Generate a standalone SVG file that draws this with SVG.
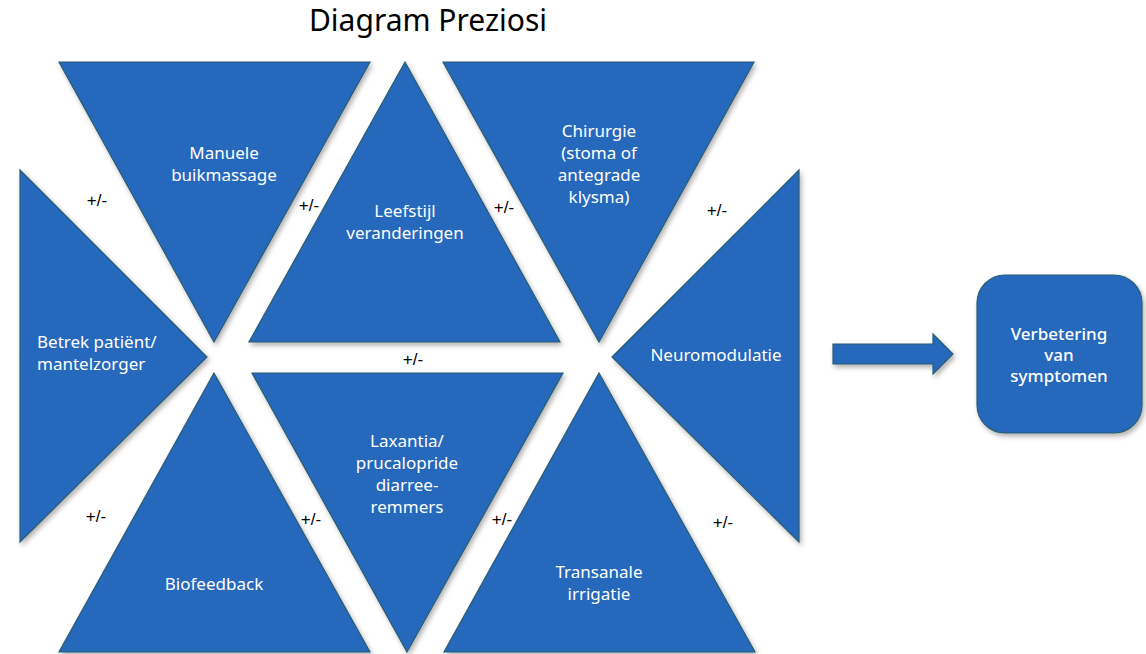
<svg xmlns="http://www.w3.org/2000/svg" width="1146" height="654" viewBox="0 0 1146 654">
<defs>
<filter id="sh" x="-10%" y="-10%" width="130%" height="130%">
<feDropShadow dx="2" dy="3" stdDeviation="2.5" flood-color="#000" flood-opacity="0.3"/>
</filter>
<style>
.s{fill:#2767BC;stroke:#2B5D72;stroke-width:1.2;filter:url(#sh)}
.t{font-family:"Noto Sans","Open Sans",sans-serif;font-size:17px;fill:#fff;text-anchor:middle}
.l{text-anchor:start}
.p{font-family:"Liberation Sans",Arial,sans-serif;font-size:17px;fill:#000;text-anchor:middle}
.ttl{font-family:"Noto Sans","Open Sans",sans-serif;font-size:30px;fill:#000;text-anchor:middle}
</style>
</defs>
<rect width="1146" height="654" fill="#fff"/>
<text class="ttl" x="428" y="31">Diagram Preziosi</text>

<g id="manuele"><polygon class="s" points="59,62 370,62 214,342"/>
<text class="t" x="224" y="159">Manuele</text><text class="t" x="224" y="181">buikmassage</text></g>

<g id="leefstijl"><polygon class="s" points="405,62 560,342 249,342"/>
<text class="t" x="405" y="217">Leefstijl</text><text class="t" x="405" y="239">veranderingen</text></g>

<g id="chirurgie"><polygon class="s" points="443,62 754,62 599,342"/>
<text class="t" x="599" y="137">Chirurgie</text><text class="t" x="599" y="159">(stoma of</text><text class="t" x="599" y="181">antegrade</text><text class="t" x="599" y="203">klysma)</text></g>

<g id="betrek"><polygon class="s" points="20,170 207,357 20,542"/>
<text class="t l" x="37" y="348">Betrek patiënt/</text><text class="t l" x="37" y="370">mantelzorger</text></g>

<g id="neuromodulatie"><polygon class="s" points="799,170 799,542 612,357"/>
<text class="t" x="716" y="361">Neuromodulatie</text></g>

<g id="biofeedback"><polygon class="s" points="214,373 370,652 59,652"/>
<text class="t" x="214" y="590">Biofeedback</text></g>

<g id="laxantia"><polygon class="s" points="252,373 563,373 407,652"/>
<text class="t" x="407" y="447">Laxantia/</text><text class="t" x="407" y="469">prucalopride</text><text class="t" x="407" y="491">diarree-</text><text class="t" x="407" y="513">remmers</text></g>

<g id="transanale"><polygon class="s" points="599,373 755,652 444,652"/>
<text class="t" x="599" y="578">Transanale</text><text class="t" x="599" y="600">irrigatie</text></g>

<g id="connectors">
<polygon class="s" points="833,344 933,344 933,334 953,354 933,374 933,364 833,364"/>
</g>

<g id="verbetering"><rect class="s" x="977" y="275" width="165" height="158" rx="28" ry="28"/>
<text class="t" x="1059" y="340" font-weight="500">Verbetering</text><text class="t" x="1059" y="361" font-weight="500">van</text><text class="t" x="1059" y="382" font-weight="500">symptomen</text></g>

<g id="labels">
<text class="p" x="97" y="206">+/-</text>
<text class="p" x="309" y="211">+/-</text>
<text class="p" x="504" y="213">+/-</text>
<text class="p" x="717" y="216">+/-</text>
<text class="p" x="413" y="365">+/-</text>
<text class="p" x="96" y="522">+/-</text>
<text class="p" x="311" y="525">+/-</text>
<text class="p" x="502" y="525">+/-</text>
<text class="p" x="723" y="528">+/-</text>
</g>
</svg>
